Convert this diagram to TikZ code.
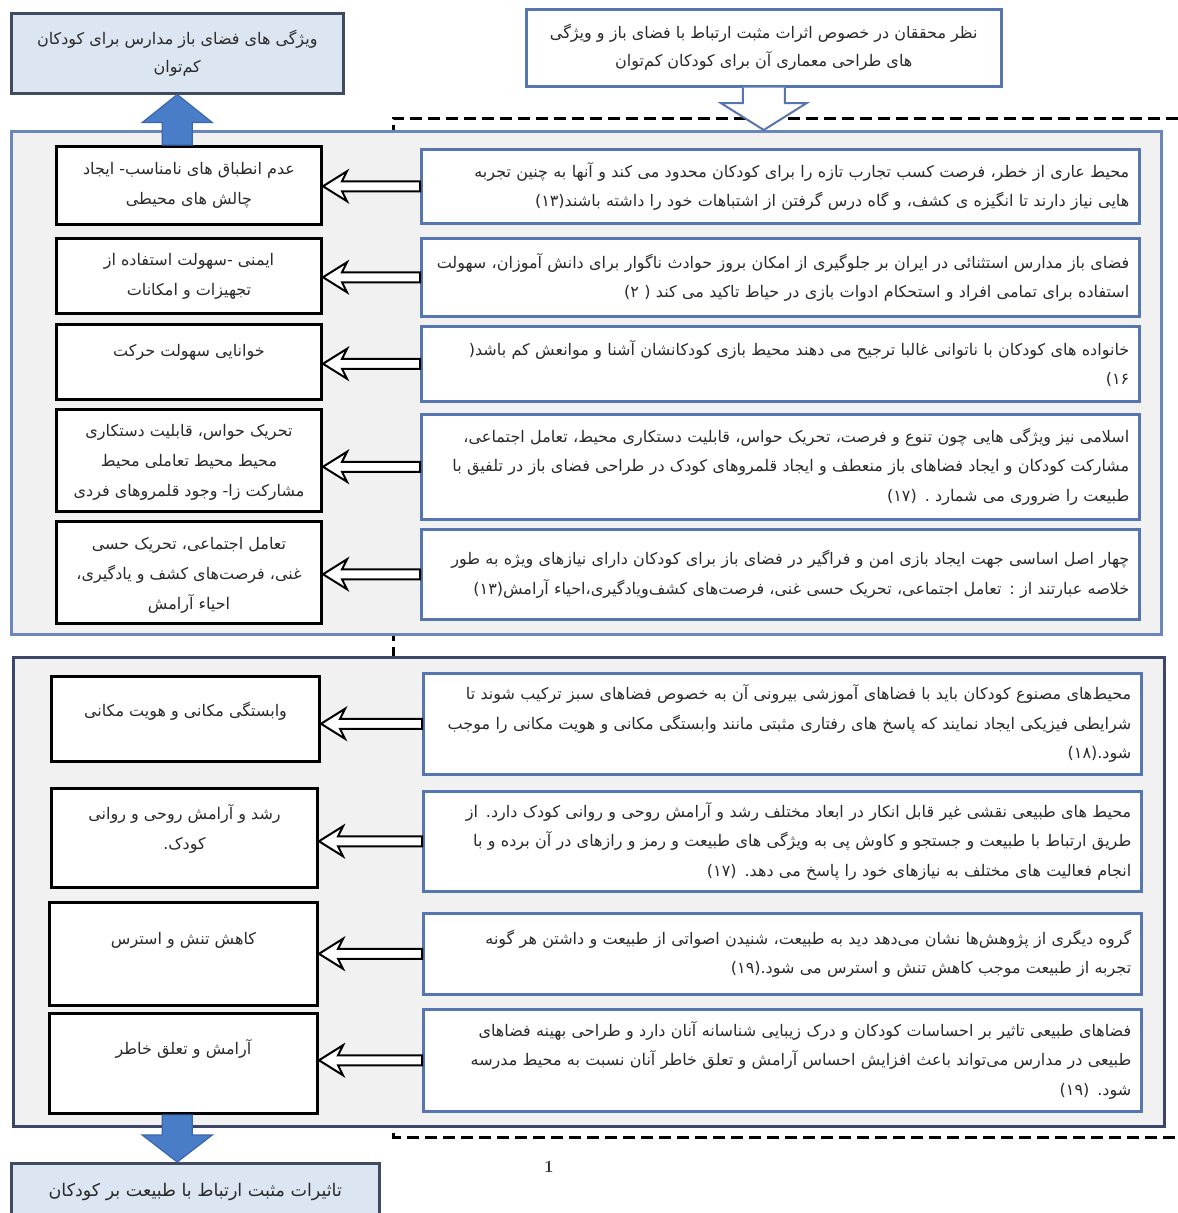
\documentclass[tikz,border=0pt]{standalone}
\usepackage{fontspec}
\newfontfamily\arabicfont[Script=Arabic]{DejaVu Sans}
\TeXXeTstate=1
\usetikzlibrary{calc}
\definecolor{panelfill}{HTML}{F1F1F1}
\definecolor{panelone}{HTML}{6A86BC}
\definecolor{paneltwo}{HTML}{3B4668}
\definecolor{rborder}{HTML}{5576B0}
\definecolor{hdrfill}{HTML}{DCE6F2}
\definecolor{hdrdraw}{HTML}{3F4B5E}
\definecolor{bluearrow}{HTML}{4A7DC8}
\definecolor{bluearrowdraw}{HTML}{3B66AD}
\definecolor{txt}{HTML}{2A2A2A}
\newcommand\RL[1]{\beginR#1\endR}
\tikzset{
  panel/.style={draw, fill=panelfill, line width=2.5pt, anchor=north west, inner sep=0pt},
  rbox/.style={draw=rborder, fill=white, line width=2.5pt, anchor=north west, inner xsep=10pt, inner ysep=0pt,
    text width=698pt, minimum width=718pt, align=right, text=txt,
    font=\arabicfont\fontsize{16}{29.5}\selectfont},
  lbox/.style={draw=black, fill=white, line width=3pt, anchor=north west, inner sep=0pt},
  ltext/.style={align=center, text=txt, inner sep=0pt, font=\arabicfont\fontsize{16}{30}\selectfont},
  hdr/.style={draw=hdrdraw, fill=hdrfill, line width=2.5pt, anchor=north west, inner sep=0pt, align=center, text=txt,
    font=\arabicfont\fontsize{16}{28}\selectfont},
  harr/.style={draw=black, fill=white, line width=2pt},
  barr/.style={draw=bluearrowdraw, fill=bluearrow, line width=1.2pt},
  warr/.style={draw=rborder, fill=white, line width=2pt},
  dashline/.style={draw=black, line width=3pt, dash pattern=on 12pt off 6pt}
}
\begin{document}
\begin{tikzpicture}[x=1pt,y=-1pt]
\useasboundingbox[fill=white] (0,0) rectangle (1178,1213);
% dashed frame
\coordinate (dtl) at (393,118);
\coordinate (dtr) at (1178,118);
\coordinate (dbl) at (393,1137);
\coordinate (dbr) at (1178,1137);
\draw[dashline] (dtr) -- (dtl) -- (dbl) -- (dbr);
% panels
\node[panel, draw=panelone, minimum width=1150pt, minimum height=503pt] (p1) at (10,130) {};
\node[panel, draw=paneltwo, minimum width=1151pt, minimum height=469pt] (p2) at (12,656) {};
% headers
\node[hdr, minimum width=332pt, minimum height=80pt] (tl) at (10,12) {\RL{ویژگی های فضای باز مدارس برای کودکان}\\\RL{کم‌توان}};
\node[hdr, draw=rborder, fill=white, minimum width=475pt, minimum height=77pt] (tr) at (525,8) {\RL{نظر محققان در خصوص اثرات مثبت ارتباط با فضای باز و ویژگی}\\\RL{های طراحی معماری آن برای کودکان کم‌توان}};
\node[hdr, minimum width=368pt, minimum height=58pt, font=\arabicfont\fontsize{17.5}{28}\selectfont] (bot) at (10,1162) {\RL{تاثیرات مثبت ارتباط با طبیعت بر کودکان}};
\node[font=\fontsize{17}{19}\selectfont\bfseries, text=txt] (pg) at (549,1167) {1};
% right boxes
\node[rbox, minimum height=74pt] (r1) at (420,148) {\RL{محیط عاری از خطر، فرصت کسب تجارب تازه را برای کودکان محدود می کند و آنها به چنین تجربه}\\\RL{هایی نیاز دارند تا انگیزه ی کشف، و گاه درس گرفتن از اشتباهات خود را داشته باشند(۱۳)}};
\node[rbox, minimum height=78pt] (r2) at (420,237) {\RL{فضای باز مدارس استثنائی در ایران بر جلوگیری از امکان بروز حوادث ناگوار برای دانش آموزان، سهولت}\\\RL{استفاده برای تمامی افراد و استحکام ادوات بازی در حیاط تاکید می کند ( ۲)}};
\node[rbox, minimum height=75pt] (r3) at (420,325) {\RL{خانواده های کودکان با ناتوانی غالبا ترجیح می دهند محیط بازی کودکانشان آشنا و موانعش کم باشد(}\\\RL{۱۶)}};
\node[rbox, minimum height=105pt] (r4) at (420,413) {\RL{اسلامی نیز ویژگی هایی چون تنوع و فرصت، تحریک حواس، قابلیت دستکاری محیط، تعامل اجتماعی،}\\\RL{مشارکت کودکان و ایجاد فضاهای باز منعطف و ایجاد قلمروهای کودک در طراحی فضای باز در تلفیق با}\\\RL{طبیعت  را ضروری می شمارد . (۱۷)}};
\node[rbox, minimum height=90pt] (r5) at (420,528) {\RL{چهار اصل اساسی جهت ایجاد بازی امن و فراگیر در فضای باز برای کودکان دارای نیازهای ویژه  به طور}\\\RL{خلاصه عبارتند از : تعامل اجتماعی، تحریک حسی غنی، فرصت‌های کشف‌ویادگیری،احیاء آرامش(۱۳)}\\[4pt]};
\node[rbox, minimum height=101pt] (r6) at (422,672) {\RL{محیط‌های مصنوع کودکان باید با فضاهای آموزشی بیرونی آن به خصوص فضاهای سبز ترکیب شوند تا}\\\RL{شرایطی فیزیکی ایجاد نمایند که پاسخ های رفتاری مثبتی مانند وابستگی مکانی و هویت مکانی را موجب}\\\RL{شود.(۱۸)}};
\node[rbox, minimum height=100pt] (r7) at (422,790) {\RL{محیط های طبیعی نقشی غیر قابل انکار در ابعاد مختلف رشد و آرامش روحی و روانی کودک دارد. از}\\\RL{طریق ارتباط با طبیعت و جستجو و کاوش پی به ویژگی های طبیعت و رمز و رازهای در آن برده و با}\\\RL{انجام فعالیت های مختلف به نیازهای خود را پاسخ می دهد. (۱۷)}};
\node[rbox, minimum height=81pt] (r8) at (422,912) {\RL{گروه دیگری از پژوهش‌ها نشان می‌دهد دید به طبیعت، شنیدن اصواتی از طبیعت و  داشتن هر گونه}\\\RL{تجربه از طبیعت موجب کاهش تنش و استرس می شود.(۱۹)}};
\node[rbox, minimum height=102pt] (r9) at (422,1008) {\RL{فضاهای طبیعی تاثیر بر احساسات کودکان و درک زیبایی شناسانه آنان دارد و طراحی بهینه فضاهای}\\\RL{طبیعی در مدارس می‌تواند باعث افزایش احساس آرامش و تعلق خاطر آنان نسبت به محیط مدرسه}\\\RL{شود. (۱۹)}};
% left boxes
\node[lbox, minimum width=265pt, minimum height=78pt] (l1) at (55,145) {};
\node[lbox, minimum width=265pt, minimum height=75pt] (l2) at (55,237) {};
\node[lbox, minimum width=265pt, minimum height=75pt] (l3) at (55,323) {};
\node[lbox, minimum width=265pt, minimum height=102pt] (l4) at (55,408) {};
\node[lbox, minimum width=265pt, minimum height=102pt] (l5) at (55,520) {};
\node[lbox, minimum width=268pt, minimum height=85pt] (l6) at (50,675) {};
\node[lbox, minimum width=266pt, minimum height=99pt] (l7) at (50,787) {};
\node[lbox, minimum width=268pt, minimum height=103pt] (l8) at (48,901) {};
\node[lbox, minimum width=268pt, minimum height=100pt] (l9) at (48,1012) {};
% left texts
\node[ltext] (t1) at ($(l1.center)+(0,0)$) {\RL{عدم انطباق های نامناسب- ایجاد}\\\RL{چالش های محیطی}};
\node[ltext] (t2) at ($(l2.center)+(0,0)$) {\RL{ایمنی -سهولت استفاده از}\\\RL{تجهیزات و امکانات}};
\node[ltext] (t3) at ($(l3.center)+(0,-10)$) {\RL{خوانایی  سهولت حرکت}};
\node[ltext] (t4) at ($(l4.center)+(0,2)$) {\RL{تحریک حواس، قابلیت دستکاری}\\\RL{محیط  محیط تعاملی  محیط}\\\RL{مشارکت زا- وجود قلمروهای فردی}};
\node[ltext] (t5) at ($(l5.center)+(0,3)$) {\RL{تعامل اجتماعی، تحریک حسی}\\\RL{غنی، فرصت‌های کشف و یادگیری،}\\\RL{احیاء آرامش}};
\node[ltext] (t6) at ($(l6.center)+(0,-8)$) {\RL{وابستگی مکانی و هویت مکانی}};
\node[ltext] (t7) at ($(l7.center)+(0,-9)$) {\RL{رشد و آرامش روحی و روانی}\\\RL{کودک.}};
\node[ltext] (t8) at ($(l8.center)+(0,-14)$) {\RL{کاهش تنش و استرس}};
\node[ltext] (t9) at ($(l9.center)+(0,-15)$) {\RL{آرامش و تعلق خاطر}};
% hollow connectors
\foreach \i in {1,...,9}{
  \path (l\i.east |- r\i.west) coordinate (a\i);
  \draw[harr] (a\i) -- ($(a\i)+(24,-15)$) -- ($(a\i)+(19,-5)$) -- ($(r\i.west)+(0,-5)$)
    -- ($(r\i.west)+(0,5)$) -- ($(a\i)+(19,5)$) -- ($(a\i)+(24,15)$) -- cycle;
}
% blue arrows
\path (tl.south |- l1.north) coordinate (ua);
\draw[barr] ($(ua)+(-15,0)$) -- ($(tl.south)+(-15,28)$) -- ($(tl.south)+(-35,28)$) -- (tl.south)
  -- ($(tl.south)+(35,28)$) -- ($(tl.south)+(15,28)$) -- ($(ua)+(15,0)$) -- cycle;
\path (tl.south |- l9.south) coordinate (da);
\path (tl.south |- bot.north) coordinate (db);
\draw[barr] ($(da)+(-15,0)$) -- ($(db)+(-15,-27)$) -- ($(db)+(-35,-27)$) -- (db)
  -- ($(db)+(35,-27)$) -- ($(db)+(15,-27)$) -- ($(da)+(15,0)$) -- cycle;
% white arrow
\path (tr.south |- p1.north) coordinate (wb);
\draw[warr] ($(tr.south)+(-21,0)$) -- ($(wb)+(-21,-27)$) -- ($(wb)+(-43,-27)$) -- (wb)
  -- ($(wb)+(43,-27)$) -- ($(wb)+(21,-27)$) -- ($(tr.south)+(21,0)$);
\end{tikzpicture}
\end{document}
